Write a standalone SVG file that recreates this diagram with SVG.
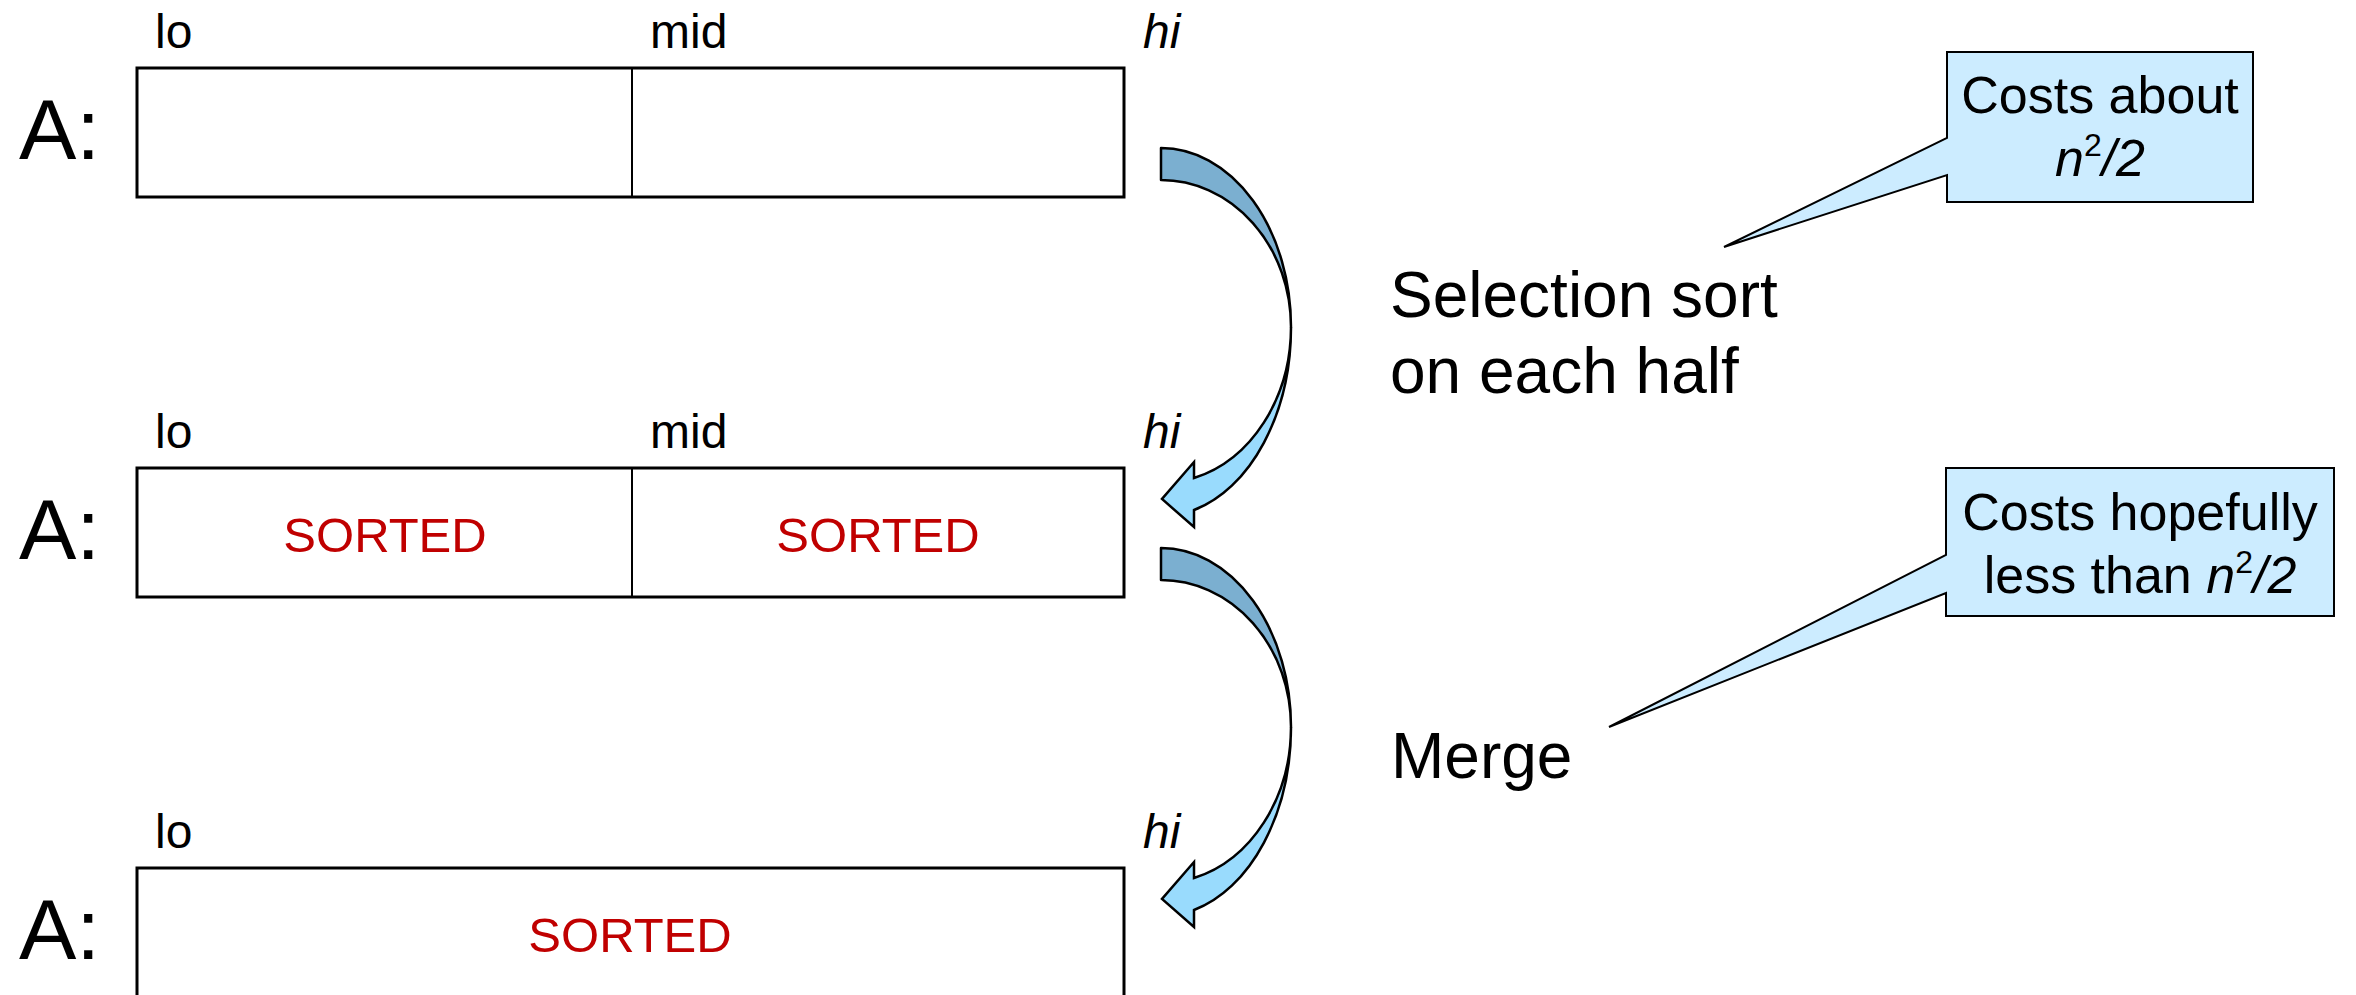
<svg xmlns="http://www.w3.org/2000/svg" width="2356" height="995" viewBox="0 0 2356 995">
<style>
.lbl{font-family:"Liberation Sans",Arial,sans-serif;font-size:48px;fill:#000}
.it{font-style:italic}
.big{font-family:"Liberation Sans",Arial,sans-serif;font-size:86px;fill:#000}
.sorted{font-family:"Liberation Sans",Arial,sans-serif;font-size:49px;fill:#C00000;text-anchor:middle}
.desc{font-family:"Liberation Sans",Arial,sans-serif;font-size:64px;fill:#000}
.note{font-family:"Liberation Sans",Arial,sans-serif;font-size:52px;fill:#000;text-anchor:middle}
.box{fill:#fff;stroke:#000;stroke-width:3}
.div{stroke:#000;stroke-width:2}
.callout{fill:#CCECFF;stroke:#000;stroke-width:2;stroke-linejoin:miter}
.back{fill:#7BAFD0;stroke:#000;stroke-width:2.5;stroke-linejoin:round}
.front{fill:#99DBFD;stroke:#000;stroke-width:2.5;stroke-linejoin:miter}
</style>
<defs>
<g id="curvedArrow">
<path class="back" d="M1161,148 A130,179 0 0 1 1291,327 A130,147 0 0 0 1161,180 Z"/>
<path class="front" d="M1291,327 A130,189 0 0 1 1194,510 L1194,527 L1162,499 L1194,462 L1194,478 A130,156 0 0 0 1291,327 Z"/>
</g>
</defs>

<g id="row1">
<text class="lbl" x="155" y="48">lo</text>
<text class="lbl" x="650" y="48">mid</text>
<text class="lbl it" x="1143" y="48">hi</text>
<text class="big" x="19" y="159">A:</text>
<rect class="box" x="137" y="68" width="987" height="129"/>
<line class="div" x1="632" y1="68" x2="632" y2="197"/>
</g>

<g id="row2">
<text class="lbl" x="155" y="448">lo</text>
<text class="lbl" x="650" y="448">mid</text>
<text class="lbl it" x="1143" y="448">hi</text>
<text class="big" x="19" y="559">A:</text>
<rect class="box" x="137" y="468" width="987" height="129"/>
<line class="div" x1="632" y1="468" x2="632" y2="597"/>
<text class="sorted" x="385" y="552">SORTED</text>
<text class="sorted" x="878" y="552">SORTED</text>
</g>

<g id="row3">
<text class="lbl" x="155" y="848">lo</text>
<text class="lbl it" x="1143" y="848">hi</text>
<text class="big" x="19" y="959">A:</text>
<rect class="box" x="137" y="868" width="987" height="140"/>
<text class="sorted" x="630" y="952">SORTED</text>
</g>

<g id="connectors">
<use href="#curvedArrow"/>
<use href="#curvedArrow" y="400"/>
</g>

<g id="step1">
<text class="desc" x="1390" y="317">Selection sort</text>
<text class="desc" x="1390" y="393">on each half</text>
</g>

<g id="step2">
<text class="desc" x="1391" y="778">Merge</text>
</g>

<g id="callout1">
<path class="callout" d="M1947,52 L2253,52 L2253,202 L1947,202 L1947,175 L1724,247 L1947,138 Z"/>
<text class="note" x="2100" y="113">Costs about</text>
<text class="note" x="2100" y="176"><tspan font-style="italic">n</tspan><tspan font-size="32" dy="-20">2</tspan><tspan font-style="italic" dy="20">/2</tspan></text>
</g>

<g id="callout2">
<path class="callout" d="M1946,468 L2334,468 L2334,616 L1946,616 L1946,593 L1609,727 L1946,555 Z"/>
<text class="note" x="2140" y="530">Costs hopefully</text>
<text class="note" x="2140" y="593">less than <tspan font-style="italic">n</tspan><tspan font-size="32" dy="-20">2</tspan><tspan font-style="italic" dy="20">/2</tspan></text>
</g>
</svg>
